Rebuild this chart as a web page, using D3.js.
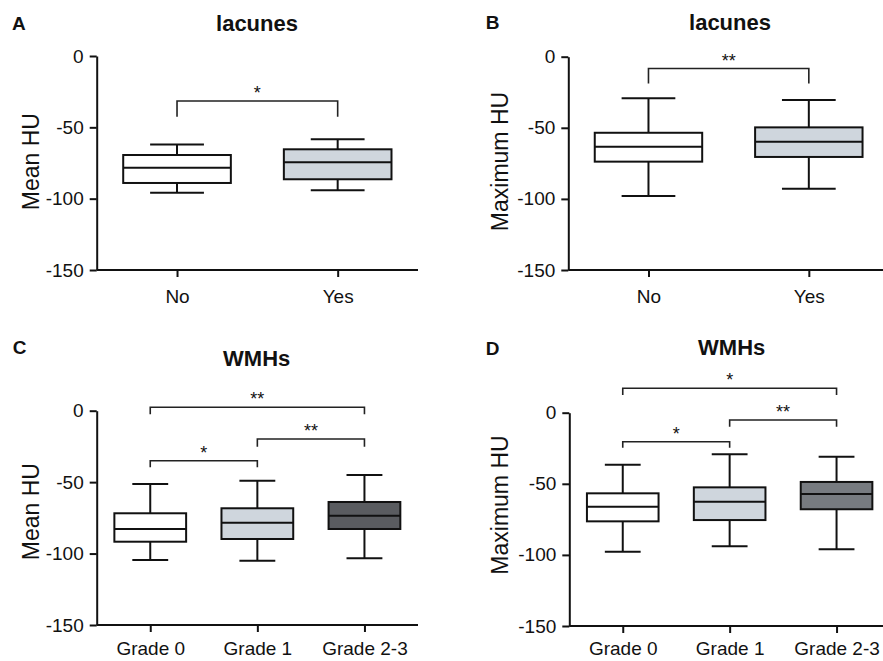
<!DOCTYPE html>
<html>
<head>
<meta charset="utf-8">
<style>
  body { margin: 0; background: #fff; }
  svg { display: block; font-family: "Liberation Sans", Arial, sans-serif; }
</style>
<script src="https://d3js.org/d3.v7.min.js"></script>
</head>
<body>
<div id="chart"></div>
<script>
// categories
var catsLacunes = ["No", "Yes"];
var catsGrade = ["Grade 0", "Grade 1", "Grade 2-3"];
var yTicks = [0, -50, -100, -150];

// box stats per group: [whisker low, q1, median, q3, whisker high]
var meanLacunes = [[-95.8, -89, -78.3, -69.4, -62], [-94.1, -86.4, -74.5, -65.4, -58.4]];
var maxLacunes = [[-97.9, -73.8, -63.3, -53.5, -29.3], [-92.8, -70.5, -59.8, -49.7, -30.5]];
var meanWmh = [[-104.5, -91.7, -82.8, -71.8, -51.3], [-105, -89.8, -78.4, -68.3, -49], [-103.3, -82.8, -73.5, -63.9, -45]];
var maxWmh = [[-97.7, -76.4, -66.1, -56.7, -36.6], [-94, -75.5, -62.6, -52.5, -29.3], [-96.1, -67.9, -57.2, -48.7, -30.9]];

// significance brackets: [from, to, line value, drop-end value, label]
var sigA = [[0, 1, -31.5, -42.5, "*"]];
var sigB = [[0, 1, -8.3, -18.8, "**"]];
var sigC = [[0, 2, 2.4, -2.5, "**"], [1, 2, -19.8, -25.2, "**"], [0, 1, -35, -39.6, "*"]];
var sigD = [[0, 2, 17.2, 12.4, "*"], [1, 2, -5.1, -9.8, "**"], [0, 1, -20.4, -24.6, "*"]];

var W = 883, H = 661;
var svg = d3.select("#chart").append("svg").attr("width", W).attr("height", H);

var panels = [
  {letter: "A", title: "lacunes", ylab: "Mean HU", cats: catsLacunes, data: meanLacunes, sig: sigA,
   fills: ["#ffffff", "#cfd6dd"], xl: 96.7, xr: 418, yt: 56, yb: 270, pad: 13,
   lx: 12, ly: 30, tx: 257, ty: 30.5, labx: 39.3, laby: 161.7},
  {letter: "B", title: "lacunes", ylab: "Maximum HU", cats: catsLacunes, data: maxLacunes, sig: sigB,
   fills: ["#ffffff", "#cfd6dd"], xl: 568.3, xr: 889, yt: 56.7, yb: 270, pad: 13,
   lx: 485.7, ly: 29.3, tx: 730, ty: 29.5, labx: 507.8, laby: 161.5},
  {letter: "C", title: "WMHs", ylab: "Mean HU", cats: catsGrade, data: meanWmh, sig: sigC,
   fills: ["#ffffff", "#cfd6dd", "#5a5c60"], xl: 96.7, xr: 418, yt: 410.7, yb: 625, pad: 10,
   lx: 12.7, ly: 354.3, tx: 256.7, ty: 365.7, labx: 39.3, laby: 511.7},
  {letter: "D", title: "WMHs", ylab: "Maximum HU", cats: catsGrade, data: maxWmh, sig: sigD,
   fills: ["#ffffff", "#cfd6dd", "#777b80"], xl: 569.3, xr: 890, yt: 412.7, yb: 626, pad: 9,
   lx: 485.7, ly: 355, tx: 731.7, ty: 355, labx: 508.3, laby: 505}
];

panels.forEach(function(p) {
  var g = svg.append("g");
  var x = d3.scalePoint().domain(p.cats).range([p.xl, p.xr]).padding(0.5);
  var y = d3.scaleLinear().domain([-150, 0]).range([p.yb, p.yt]);
  var bw = x.step() * 0.67;

  // y axis
  var ya = g.append("g").attr("transform", "translate(" + p.xl + ",0)")
    .call(d3.axisLeft(y).tickValues(yTicks).tickFormat(function(d) { return String(d); })
      .tickSize(7).tickSizeOuter(0).tickPadding(6));
  ya.selectAll("text").attr("font-size", 19).attr("fill", "#111").attr("font-family", null);

  // x axis
  var xa = g.append("g").attr("transform", "translate(0," + p.yb + ")")
    .call(d3.axisBottom(x).tickSize(7).tickSizeOuter(0).tickPadding(p.pad));
  xa.select(".domain").attr("d", "M" + p.xl + ",0H" + p.xr);
  xa.selectAll("text").attr("font-size", 19).attr("fill", "#111").attr("font-family", null);

  g.selectAll(".domain, .tick line").attr("stroke", "#111").attr("stroke-width", 2);

  // boxes
  var box = g.selectAll(".box").data(p.data).enter().append("g").attr("class", "box");
  box.append("line")
    .attr("x1", function(d, i) { return x(p.cats[i]); })
    .attr("x2", function(d, i) { return x(p.cats[i]); })
    .attr("y1", function(d) { return y(d[0]); })
    .attr("y2", function(d) { return y(d[4]); });
  [0, 4].forEach(function(k) {
    box.append("line")
      .attr("x1", function(d, i) { return x(p.cats[i]) - bw / 4; })
      .attr("x2", function(d, i) { return x(p.cats[i]) + bw / 4; })
      .attr("y1", function(d) { return y(d[k]); })
      .attr("y2", function(d) { return y(d[k]); });
  });
  box.append("rect")
    .attr("x", function(d, i) { return x(p.cats[i]) - bw / 2; })
    .attr("width", bw)
    .attr("y", function(d) { return y(d[3]); })
    .attr("height", function(d) { return y(d[1]) - y(d[3]); })
    .attr("fill", function(d, i) { return p.fills[i]; });
  box.append("line")
    .attr("x1", function(d, i) { return x(p.cats[i]) - bw / 2; })
    .attr("x2", function(d, i) { return x(p.cats[i]) + bw / 2; })
    .attr("y1", function(d) { return y(d[2]); })
    .attr("y2", function(d) { return y(d[2]); });
  box.selectAll("line, rect").attr("stroke", "#111").attr("stroke-width", 2);

  // significance brackets
  var sg = g.selectAll(".sig").data(p.sig).enter().append("g").attr("class", "sig");
  sg.append("path")
    .attr("d", function(d) {
      var a = x(p.cats[d[0]]), b = x(p.cats[d[1]]);
      return "M" + a + "," + y(d[3]) + "V" + y(d[2]) + "H" + b + "V" + y(d[3]);
    })
    .attr("fill", "none").attr("stroke", "#222").attr("stroke-width", 1.6);
  sg.append("text")
    .attr("x", function(d) { return (x(p.cats[d[0]]) + x(p.cats[d[1]])) / 2; })
    .attr("y", function(d) { return y(d[2]) - 2; })
    .attr("text-anchor", "middle").attr("font-size", 18).attr("fill", "#111")
    .text(function(d) { return d[4]; });

  // titles and labels
  g.append("text").attr("x", p.lx).attr("y", p.ly).attr("font-size", 19).attr("font-weight", "bold")
    .attr("fill", "#111").text(p.letter);
  g.append("text").attr("x", p.tx).attr("y", p.ty).attr("text-anchor", "middle").attr("font-size", 22)
    .attr("font-weight", "bold").attr("fill", "#111").text(p.title);
  g.append("text").attr("transform", "translate(" + p.labx + "," + p.laby + ") rotate(-90)")
    .attr("text-anchor", "middle").attr("font-size", 23).attr("fill", "#111").text(p.ylab);
});
</script>
</body>
</html>
